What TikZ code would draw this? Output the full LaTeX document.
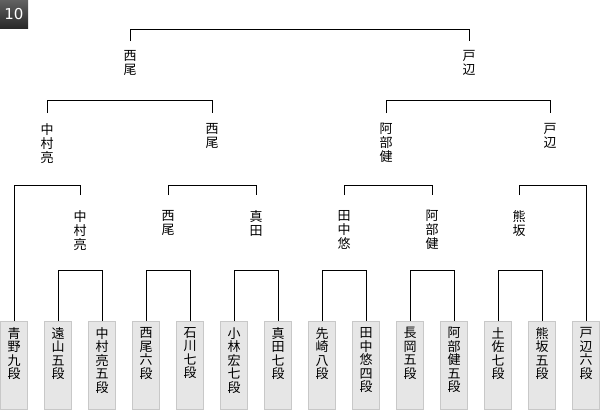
\documentclass[tikz,border=0pt]{standalone}
\usepackage{fontspec}
\newfontfamily\jp{Noto Sans CJK JP}
\newfontfamily\badgefont{DejaVu Sans}
\definecolor{boxfill}{HTML}{E6E6E6}
\definecolor{boxline}{HTML}{C8C8C8}
\newcommand{\tate}[1]{\parbox[t][76pt][t]{27pt}{\centering #1}}
\tikzset{
	player/.style={anchor=north, draw=boxline, fill=boxfill, line width=1pt, inner xsep=0pt, inner ysep=6pt, font=\jp\fontsize{13}{13.5}\selectfont},
	win/.style={anchor=north, align=center, inner xsep=0pt, inner ysep=10pt, font=\jp\fontsize{13}{14}\selectfont},
	badge/.style={rectangle, minimum size=28pt, inner sep=0pt, top color=black!62, bottom color=black!84, text=white, font=\badgefont\fontsize{15}{15}\selectfont}
}
\begin{document}
\begin{tikzpicture}[x=1pt,y=-1pt,line width=1pt]
	\useasboundingbox (0,0) rectangle (600,410);
	
	\node[badge] (no) at (14,14) {10};
	
	% players
	\node[player] (1) at (14,321) {\tate{青\\野\\九\\段}};
	\node[player] (2) at (58,321) {\tate{遠\\山\\五\\段}};
	\node[player] (3) at (102,321) {\tate{中\\村\\亮\\五\\段}};
	\node[player] (4) at (146,321) {\tate{西\\尾\\六\\段}};
	\node[player] (5) at (190,321) {\tate{石\\川\\七\\段}};
	\node[player] (6) at (234,321) {\tate{小\\林\\宏\\七\\段}};
	\node[player] (7) at (278,321) {\tate{真\\田\\七\\段}};
	\node[player] (8) at (322,321) {\tate{先\\崎\\八\\段}};
	\node[player] (9) at (366,321) {\tate{田\\中\\悠\\四\\段}};
	\node[player] (10) at (410,321) {\tate{長\\岡\\五\\段}};
	\node[player] (11) at (454,321) {\tate{阿\\部\\健\\五\\段}};
	\node[player] (12) at (498,321) {\tate{土\\佐\\七\\段}};
	\node[player] (13) at (542,321) {\tate{熊\\坂\\五\\段}};
	\node[player] (14) at (586,321) {\tate{戸\\辺\\六\\段}};
	
	% winners
	\node[win, inner ysep=15pt] (21) at (80,195) {中\\村\\亮};
	\node[win, inner ysep=15pt] (22) at (168,195) {西\\尾};
	\node[win, inner ysep=15pt] (23) at (256,195) {真\\田};
	\node[win, inner ysep=15pt] (24) at (344,195) {田\\中\\悠};
	\node[win, inner ysep=15pt] (25) at (432,195) {阿\\部\\健};
	\node[win, inner ysep=15pt] (26) at (519,195) {熊\\坂};
	
	\node[win] (31) at (47,113) {中\\村\\亮};
	\node[win] (32) at (212,113) {西\\尾};
	\node[win] (33) at (386,113) {阿\\部\\健};
	\node[win] (34) at (550,113) {戸\\辺};
	
	\node[win, inner ysep=9pt] (41) at (130,41) {西\\尾};
	\node[win, inner ysep=9pt] (42) at (469,41) {戸\\辺};
	
	% brackets
	\draw (2.north) -- ++(0,-51) -| (3.north);
	\draw (4.north) -- ++(0,-51) -| (5.north);
	\draw (6.north) -- ++(0,-51) -| (7.north);
	\draw (8.north) -- ++(0,-51) -| (9.north);
	\draw (10.north) -- ++(0,-51) -| (11.north);
	\draw (12.north) -- ++(0,-51) -| (13.north);
	
	\draw (21.north) -- ++(0,-10) -| (1.north);
	\draw (22.north) -- ++(0,-10) -| (23.north);
	\draw (24.north) -- ++(0,-10) -| (25.north);
	\draw (26.north) -- ++(0,-10) -| (14.north);
	
	\draw (31.north) -- ++(0,-13) -| (32.north);
	\draw (33.north) -- ++(0,-13) -| (34.north);
	
	\draw (41.north) -- ++(0,-12) -| (42.north);
\end{tikzpicture}
\end{document}
